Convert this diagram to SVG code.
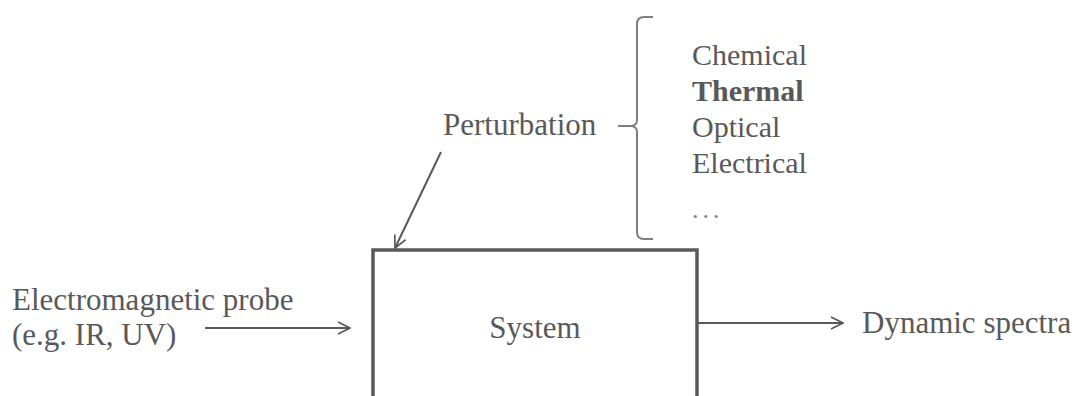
<svg xmlns="http://www.w3.org/2000/svg" width="1085" height="396" viewBox="0 0 1085 396">
  <defs>
    <style>
      .lbl { font-family: "Liberation Serif", "Times New Roman", serif; font-size: 31px; fill: #595959; }
      .list { font-size: 30px; }
      .bold { font-weight: bold; }
      .dots { font-size: 26px; fill: #7f7f7f; letter-spacing: 4px; }
      .conn { stroke: #595959; stroke-width: 2; fill: none; }
      .box { stroke: #595959; stroke-width: 3.5; fill: #ffffff; }
      .brace { stroke: #7f7f7f; stroke-width: 2; fill: none; }
    </style>
    <marker id="open" viewBox="0 0 14 14" refX="13" refY="7" markerWidth="14" markerHeight="14" markerUnits="userSpaceOnUse" orient="auto">
      <path d="M1,1 L13,7 L1,13" stroke="#595959" stroke-width="1.7" fill="none"/>
    </marker>
  </defs>

  <rect width="1085" height="396" fill="#ffffff"/>

  <!-- central system block, open at the bottom edge -->
  <g id="system">
    <rect class="box" x="373" y="250" width="324" height="170"/>
    <text class="lbl" x="535" y="338" text-anchor="middle">System</text>
  </g>

  <g id="probe">
    <text class="lbl" x="12" y="310">Electromagnetic probe</text>
    <text class="lbl" x="12" y="345">(e.g. IR, UV)</text>
  </g>

  <g id="spectra">
    <text class="lbl" x="862" y="333">Dynamic spectra</text>
  </g>

  <g id="perturbation">
    <text class="lbl" x="443" y="135">Perturbation</text>
  </g>

  <!-- kinds of perturbation, grouped by a brace -->
  <g id="kinds">
    <path class="brace" d="M653,17 L644,17 Q637,17 637,24 L637,120 Q637,126 630,126 L618,126 M630,126 Q637,126 637,132 L637,232 Q637,239 644,239 L653,239"/>
    <text class="lbl list" x="692" y="65">Chemical</text>
    <text class="lbl list bold" x="692" y="101">Thermal</text>
    <text class="lbl list" x="692" y="137">Optical</text>
    <text class="lbl list" x="692" y="173">Electrical</text>
    <text class="lbl dots" x="692" y="218">...</text>
  </g>

  <g id="connectors">
    <line class="conn" x1="205" y1="328" x2="350" y2="328" marker-end="url(#open)"/>
    <line class="conn" x1="697" y1="323" x2="843" y2="323" marker-end="url(#open)"/>
    <line class="conn" x1="441" y1="152" x2="395" y2="248" marker-end="url(#open)"/>
  </g>
</svg>
